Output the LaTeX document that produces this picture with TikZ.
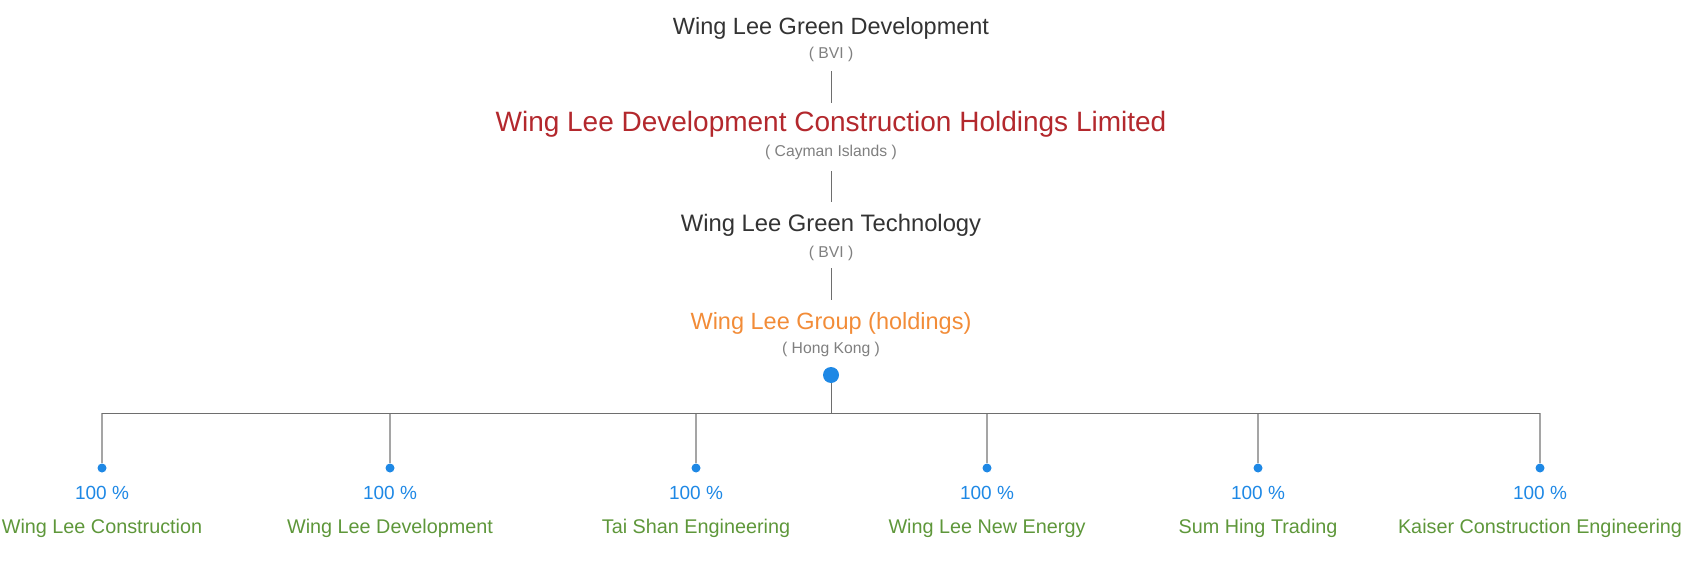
\documentclass[tikz,border=0pt]{standalone}
\usepackage{fontspec}
\setmainfont{Liberation Sans}
\usepackage{xcolor}
\usetikzlibrary{positioning}
\definecolor{darktext}{HTML}{333333}
\definecolor{redtext}{HTML}{B3282D}
\definecolor{orangetext}{HTML}{F28C38}
\definecolor{bluedot}{HTML}{1E88E5}
\definecolor{greentext}{HTML}{5E973A}
\definecolor{subgray}{HTML}{7F7F7F}
\definecolor{linegray}{HTML}{6E6E6E}
\definecolor{dropgray}{HTML}{A5A5A5}

\begin{document}
\begin{tikzpicture}[x=1pt,y=-1pt,
  ent/.style={anchor=base, inner sep=0pt, font=\fontsize{23.5}{26}\selectfont},
  sub/.style={anchor=base, inner sep=0pt, text=subgray, font=\fontsize{15.7}{18}\selectfont},
  link/.style={draw=linegray, line width=0.9pt},
  drop/.style={draw=dropgray, line width=1.1pt},
  dot/.style={circle, fill=bluedot, inner sep=0pt, minimum size=#1}]
\useasboundingbox (0,0) rectangle (1686,580);
% top chain
\node[ent, text=darktext] (green) at (831,35) {Wing Lee Green Development};
\node[sub] (bvi1) at (831,59) {( BVI )};
\node[ent, text=redtext, font=\fontsize{28}{30}\selectfont] (holdco) at (831,132) {Wing Lee Development Construction Holdings Limited};
\node[sub] (cayman) at (831,157) {( Cayman Islands )};
\node[ent, text=darktext, font=\fontsize{23.8}{26}\selectfont] (tech) at (831,232) {Wing Lee Green Technology};
\node[sub] (bvi2) at (831,257) {( BVI )};
\node[ent, text=orangetext] (group) at (831,329) {Wing Lee Group (holdings)};
\node[sub] (hk) at (831,353) {( Hong Kong )};
\node[dot=16pt] (hub) at (831,375) {};
\coordinate (bar) at (831,413);
\draw[link, shorten <=9pt, shorten >=9pt] (bvi1) -- (holdco);
\draw[link, shorten <=11pt, shorten >=13pt] (cayman) -- (tech);
\draw[link, shorten <=8pt, shorten >=12pt] (bvi2) -- (group);
\draw[link] (hub) -- (bar);
% subsidiaries
\foreach \x/\nm/\lbl in {102/a/Wing Lee Construction, 390/b/Wing Lee Development,
    696/c/Tai Shan Engineering, 987/d/Wing Lee New Energy,
    1258/e/Sum Hing Trading, 1540/f/Kaiser Construction Engineering} {
  \node[dot=9pt] (d\nm) at (\x,468) {};
  \node[anchor=base, inner sep=0pt, text=bluedot, font=\fontsize{19}{21}\selectfont] (p\nm) at (\x,499) {100 \%};
  \node[anchor=base, inner sep=0pt, text=greentext, font=\fontsize{19.8}{22}\selectfont] (n\nm) at (\x,533) {\lbl};
  \draw[drop] (d\nm |- bar) -- (d\nm);
}
\draw[link] (da |- bar) -- (df |- bar);
\end{tikzpicture}
\end{document}
